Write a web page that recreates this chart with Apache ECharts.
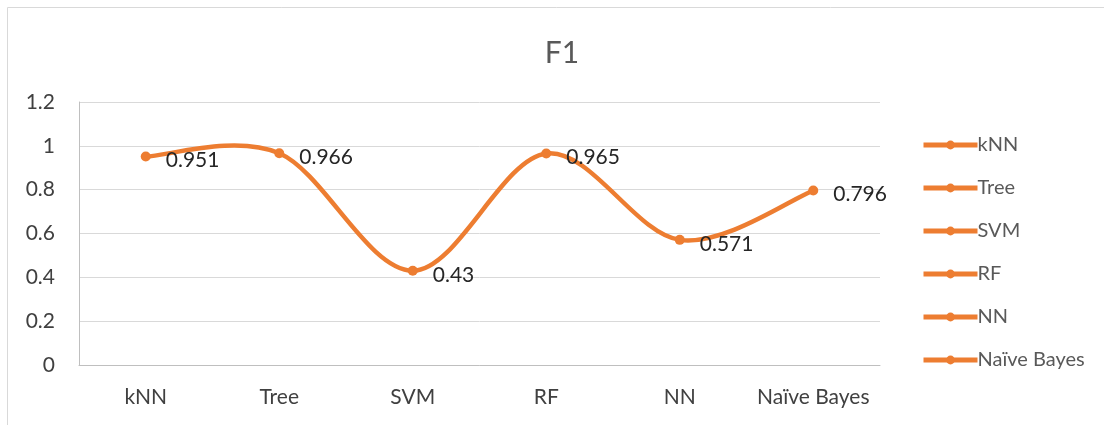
<!DOCTYPE html>
<html>
<head>
<meta charset="utf-8">
<script src="https://cdn.jsdelivr.net/npm/echarts@6/dist/echarts.min.js"></script>
<style>
  html, body { margin: 0; padding: 0; background: #fff; }
  #chart { width: 1104px; height: 425px; }
</style>
</head>
<body>
<div id="chart"></div>
<script>
/* -------------------------------------------------------------------------- */
/*                                F1 line chart                               */
/* -------------------------------------------------------------------------- */

const categories = ['kNN', 'Tree', 'SVM', 'RF', 'NN', 'Naïve Bayes'];
const f1Values = [0.951, 0.966, 0.43, 0.965, 0.571, 0.796];
const yTicks = { min: 0, max: 1.2, interval: 0.2 };

const ORANGE = '#ED7D31';
const FONT = 'Lato, "Open Sans", sans-serif';

const chart = echarts.init(document.getElementById('chart'));

// Excel-like smoothing: one bezier per segment, control points from neighbours
function renderSegment(params, api) {
  const i = params.dataIndex;
  const n = f1Values.length;
  if (i >= n - 1) return null;
  const pt = k => {
    const j = Math.max(0, Math.min(n - 1, k));
    return api.coord([j, f1Values[j]]);
  };
  const p0 = pt(i - 1), p1 = pt(i), p2 = pt(i + 1), p3 = pt(i + 2);
  return {
    type: 'bezierCurve',
    shape: {
      x1: p1[0], y1: p1[1],
      x2: p2[0], y2: p2[1],
      cpx1: p1[0] + (p2[0] - p0[0]) / 6,
      cpy1: p1[1] + (p2[1] - p0[1]) / 6,
      cpx2: p2[0] - (p3[0] - p1[0]) / 6,
      cpy2: p2[1] - (p3[1] - p1[1]) / 6
    },
    style: { stroke: ORANGE, lineWidth: 4.5, fill: null, lineCap: 'round' }
  };
}

// legend-only series, one per category (Excel shows points in the legend)
const legendSeries = categories.map(name => ({
  name,
  type: 'line',
  data: [],
  symbol: 'circle',
  symbolSize: 10,
  lineStyle: { width: 5, color: ORANGE },
  itemStyle: { color: ORANGE }
}));

chart.setOption({
  animation: false,
  textStyle: { fontFamily: FONT },
  graphic: [
    {
      type: 'rect',
      shape: { x: 7.5, y: 7.5, width: 1200, height: 500 },
      style: { fill: 'none', stroke: '#d9d9d9', lineWidth: 1 },
      silent: true
    }
  ],
  title: {
    text: 'F1',
    left: 557,
    top: 33,
    textAlign: 'center',
    textStyle: { color: '#595959', fontSize: 30, fontWeight: 'normal', fontFamily: FONT }
  },
  legend: {
    orient: 'vertical',
    left: 916,
    top: 130,
    itemGap: 23,
    itemWidth: 54,
    itemHeight: 11,
    lineStyle: { width: 5 },
    textStyle: { color: '#595959', fontSize: 20, fontFamily: FONT, padding: [0, 0, 0, -5] },
    data: categories
  },
  grid: { left: 79, right: 224, top: 102, bottom: 60, containLabel: false },
  xAxis: {
    type: 'category',
    data: categories,
    boundaryGap: true,
    axisLine: { lineStyle: { color: '#bfbfbf', width: 1 } },
    axisTick: { show: false },
    axisLabel: { interval: 0, color: '#404040', fontSize: 21, margin: 22, fontFamily: FONT }
  },
  yAxis: {
    type: 'value',
    min: yTicks.min,
    max: yTicks.max,
    interval: yTicks.interval,
    axisLine: { show: true, lineStyle: { color: '#bfbfbf', width: 1 } },
    axisTick: { show: false },
    splitLine: { lineStyle: { color: '#d9d9d9', width: 1 } },
    axisLabel: {
      color: '#404040',
      fontSize: 21,
      margin: 24,
      fontFamily: FONT,
      formatter: v => String(Math.round(v * 10) / 10)
    }
  },
  series: [
    {
      name: 'F1 curve',
      type: 'custom',
      coordinateSystem: 'cartesian2d',
      data: f1Values.map((v, i) => [i, v]),
      encode: { x: 0, y: 1 },
      renderItem: renderSegment,
      clip: false,
      z: 3
    },
    {
      name: 'F1',
      type: 'line',
      data: f1Values,
      symbol: 'circle',
      symbolSize: 10,
      lineStyle: { width: 0, opacity: 0 },
      itemStyle: { color: ORANGE },
      label: {
        show: true,
        position: 'right',
        distance: 15,
        offset: [0, 4],
        color: '#262626',
        fontSize: 21,
        fontFamily: FONT
      },
      z: 5
    },
    ...legendSeries
  ]
});
</script>
</body>
</html>
